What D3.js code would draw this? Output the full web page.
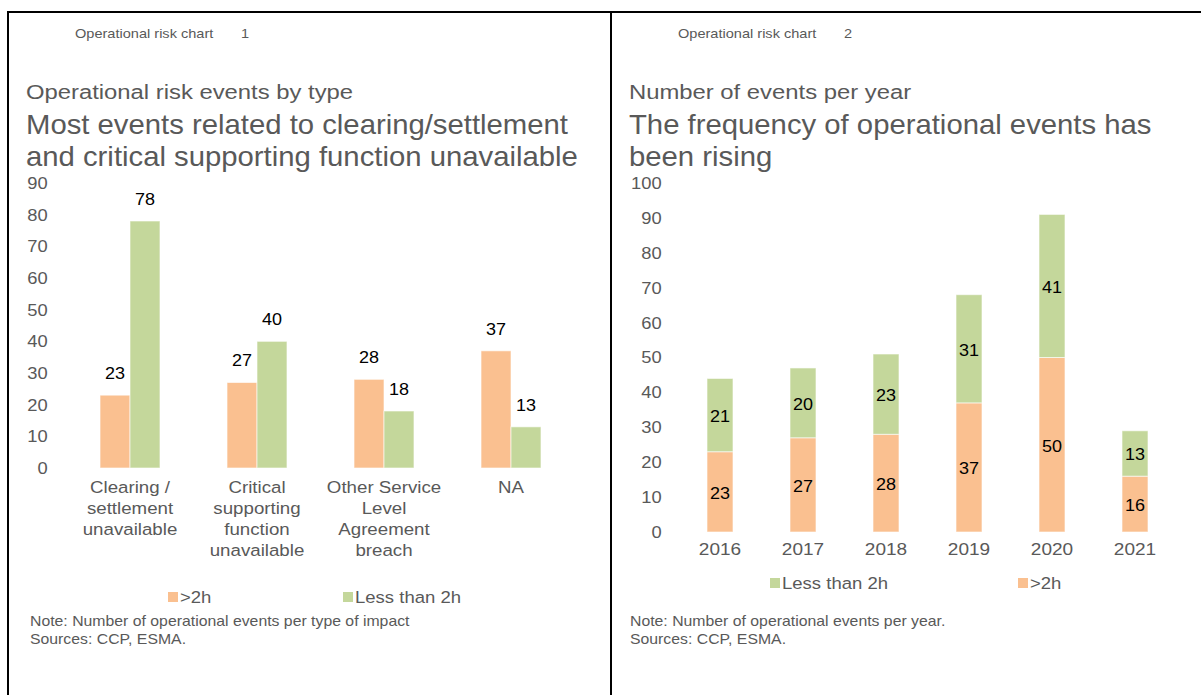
<!DOCTYPE html>
<html>
<head>
<meta charset="utf-8">
<script src="https://cdn.jsdelivr.net/npm/d3@7"></script>
<style>
  body { margin: 0; background: #fff; }
  svg { display: block; font-family: "Liberation Sans", Arial, sans-serif; }
  .axis text { fill: #595959; font-size: 17px; }
  .grey { fill: #595959; }
</style>
</head>
<body>
<svg id="chart" width="1201" height="695"></svg>
<script>
// chart 1: events by type
var typeLabels = [["Clearing /", "settlement", "unavailable"],
                  ["Critical", "supporting", "function", "unavailable"],
                  ["Other Service", "Level", "Agreement", "breach"],
                  ["NA"]];
var typeOver2h = [23, 27, 28, 37];
var typeLess2h = [78, 40, 18, 13];
var yTicks1 = [0, 10, 20, 30, 40, 50, 60, 70, 80, 90];

// chart 2: events per year
var years = ["2016", "2017", "2018", "2019", "2020", "2021"];
var yearOver2h = [23, 27, 28, 37, 50, 16];
var yearLess2h = [21, 20, 23, 31, 41, 13];
var yTicks2 = [0, 10, 20, 30, 40, 50, 60, 70, 80, 90, 100];

var orange = "#FAC090", green = "#C4D79B";

var svg = d3.select("#chart");

// the source text is a bit wider than Liberation Sans, stretch it horizontally
function stretch(sel, s) {
	sel.attr("transform", function() {
		var x = +d3.select(this).attr("x") || 0;
		return "translate(" + x + ",0) scale(" + s + ",1) translate(" + (-x) + ",0)";
	});
	return sel;
}

// frame lines
svg.append("line").attr("x1", 8).attr("x2", 1201).attr("y1", 12).attr("y2", 12)
	.attr("stroke", "#000").attr("stroke-width", 2);
svg.append("line").attr("x1", 8).attr("x2", 8).attr("y1", 11).attr("y2", 695)
	.attr("stroke", "#000").attr("stroke-width", 2);
svg.append("line").attr("x1", 611).attr("x2", 611).attr("y1", 11).attr("y2", 695)
	.attr("stroke", "#000").attr("stroke-width", 2);

function titles(x0, header, num, sub, lines) {
	stretch(svg.append("text").attr("class", "grey").attr("x", x0 + 67).attr("y", 38)
		.style("font-size", "13px").text(header), 1.12);
	stretch(svg.append("text").attr("class", "grey").attr("x", x0 + 233).attr("y", 38)
		.style("font-size", "13px").text(num), 1.12);
	stretch(svg.append("text").attr("class", "grey").attr("x", x0 + 18).attr("y", 99)
		.style("font-size", "21px").text(sub), 1.135);
	lines.forEach(function(l, i) {
		stretch(svg.append("text").attr("class", "grey").attr("x", x0 + 18).attr("y", 134 + i * 32)
			.style("font-size", "27px").text(l), 1.085);
	});
}
function notes(x0, y0, lines) {
	lines.forEach(function(l, i) {
		stretch(svg.append("text").attr("class", "grey").attr("x", x0).attr("y", y0 + i * 18)
			.style("font-size", "14px").text(l), 1.13);
	});
}
function legend(items, y) {
	items.forEach(function(it) {
		svg.append("rect").attr("x", it.x).attr("y", y - 5).attr("width", 10).attr("height", 10)
			.attr("fill", it.color);
		stretch(svg.append("text").attr("class", "grey").attr("x", it.x + 12).attr("y", y + 6)
			.style("font-size", "17px").text(it.label), 1.09);
	});
}

// ---------- chart 1 ----------
titles(8, "Operational risk chart", "1", "Operational risk events by type",
	["Most events related to clearing/settlement", "and critical supporting function unavailable"]);

var cats = typeLabels.map(function(d) { return d.join(" "); });
var series1 = ["over", "less"];
var data1 = cats.map(function(c, i) {
	return {cat: c, vals: [{k: "over", v: typeOver2h[i]}, {k: "less", v: typeLess2h[i]}]};
});

var x1 = d3.scaleBand().domain(cats).range([66.5, 574.5]).paddingInner(0.528).paddingOuter(0.264);
var xs1 = d3.scaleBand().domain(series1).range([0, x1.bandwidth()]);
var y1 = d3.scaleLinear().domain([0, 90]).range([468, 183]);

svg.append("g").attr("class", "axis").attr("transform", "translate(52,0)")
	.call(d3.axisLeft(y1).tickValues(yTicks1).tickSize(0).tickPadding(4))
	.call(function(g) { g.select(".domain").remove(); })
	.selectAll("text").attr("fill", "#595959").style("font-family", "inherit")
	.attr("transform", "scale(1.08,1)");

var g1 = svg.selectAll(".grp1").data(data1).enter().append("g")
	.attr("transform", function(d) { return "translate(" + x1(d.cat) + ",0)"; });
g1.selectAll("rect").data(function(d) { return d.vals; }).enter().append("rect")
	.attr("x", function(d) { return xs1(d.k); })
	.attr("y", function(d) { return y1(d.v); })
	.attr("width", xs1.bandwidth())
	.attr("height", function(d) { return y1(0) - y1(d.v); })
	.attr("fill", function(d) { return d.k == "over" ? orange : green; })
	.attr("stroke", "rgba(255,255,255,0.6)").attr("stroke-width", 1);
stretch(g1.selectAll("text.val").data(function(d) { return d.vals; }).enter().append("text")
	.attr("class", "val")
	.attr("x", function(d) { return xs1(d.k) + xs1.bandwidth() / 2; })
	.attr("y", function(d) { return y1(d.v) - 16; })
	.attr("text-anchor", "middle").style("font-size", "17px")
	.attr("fill", "#000")
	.text(function(d) { return d.v; }), 1.06);

// category labels
var xa1 = svg.append("g").attr("class", "axis").attr("transform", "translate(0,468)")
	.call(d3.axisBottom(x1).tickSize(0))
	.call(function(g) { g.select(".domain").remove(); });
xa1.selectAll(".tick text").each(function(c, i) {
	var t = d3.select(this).text(null).attr("y", 0).attr("dy", null)
		.attr("fill", "#595959").style("font-family", "inherit")
		.attr("transform", "scale(1.1,1)");
	typeLabels[i].forEach(function(l, j) {
		t.append("tspan").attr("x", 0).attr("y", 25 + j * 21).text(l);
	});
});

legend([{x: 168, color: orange, label: ">2h"}, {x: 343, color: green, label: "Less than 2h"}], 597);
notes(30, 626, ["Note: Number of operational events per type of impact", "Sources: CCP, ESMA."]);

// ---------- chart 2 ----------
titles(611, "Operational risk chart", "2", "Number of events per year",
	["The frequency of operational events has", "been rising"]);

var data2 = years.map(function(y, i) { return {year: y, over: yearOver2h[i], less: yearLess2h[i]}; });
var stack = d3.stack().keys(["over", "less"])(data2);

var x2 = d3.scaleBand().domain(years).range([678.5, 1176.5]).paddingInner(0.687).paddingOuter(0.3435);
var y2 = d3.scaleLinear().domain([0, 100]).range([532, 183]);

svg.append("g").attr("class", "axis").attr("transform", "translate(666,0)")
	.call(d3.axisLeft(y2).tickValues(yTicks2).tickSize(0).tickPadding(4))
	.call(function(g) { g.select(".domain").remove(); })
	.selectAll("text").attr("fill", "#595959").style("font-family", "inherit")
	.attr("transform", "scale(1.08,1)");

var layers = svg.selectAll(".layer").data(stack).enter().append("g")
	.attr("fill", function(d) { return d.key == "over" ? orange : green; });
layers.selectAll("rect").data(function(d) { return d; }).enter().append("rect")
	.attr("x", function(d) { return x2(d.data.year); })
	.attr("y", function(d) { return y2(d[1]); })
	.attr("width", x2.bandwidth())
	.attr("height", function(d) { return y2(d[0]) - y2(d[1]); })
	.attr("stroke", "rgba(255,255,255,0.6)").attr("stroke-width", 1);
stretch(layers.selectAll("text").data(function(d) { return d; }).enter().append("text")
	.attr("x", function(d) { return x2(d.data.year) + x2.bandwidth() / 2; })
	.attr("y", function(d) { return (y2(d[0]) + y2(d[1])) / 2 + 7; })
	.attr("text-anchor", "middle").style("font-size", "17px")
	.attr("fill", "#000")
	.text(function(d) { return d[1] - d[0]; }), 1.06);

svg.append("g").attr("class", "axis").attr("transform", "translate(0,532)")
	.call(d3.axisBottom(x2).tickSize(0).tickPadding(11))
	.call(function(g) { g.select(".domain").remove(); })
	.selectAll("text").attr("fill", "#595959").style("font-family", "inherit")
	.attr("transform", "scale(1.12,1)");

legend([{x: 770, color: green, label: "Less than 2h"}, {x: 1018, color: orange, label: ">2h"}], 583);
notes(630, 626, ["Note: Number of operational events per year.", "Sources: CCP, ESMA."]);
</script>
</body>
</html>
